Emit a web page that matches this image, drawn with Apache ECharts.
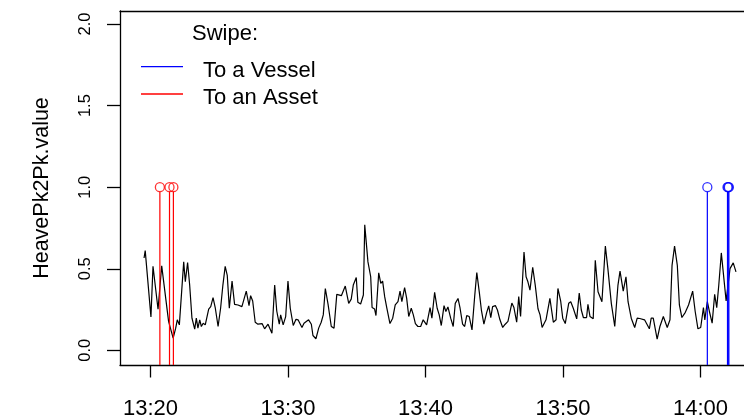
<!DOCTYPE html>
<html>
<head>
<meta charset="utf-8">
<script src="https://cdn.jsdelivr.net/npm/echarts@6/dist/echarts.min.js"></script>
<style>
  html, body { margin: 0; padding: 0; background: #fff; }
  #chart { width: 744px; height: 420px; }
</style>
</head>
<body>
<div id="chart"></div>
<script>
// Heave peak-to-peak samples (time of day, metres)
const times = [
  '13:19:32','13:19:37','13:20:02','13:20:11','13:20:33','13:20:49','13:21:19','13:21:39','13:21:50','13:21:57',
  '13:22:06','13:22:25','13:22:32','13:22:42','13:22:51','13:23:01','13:23:13','13:23:20','13:23:27','13:23:35',
  '13:23:42','13:23:50','13:23:59','13:24:14','13:24:23','13:24:33','13:24:43','13:24:55','13:25:06','13:25:16',
  '13:25:26','13:25:35','13:25:44','13:25:56','13:26:07','13:26:22','13:26:39','13:26:58','13:27:10','13:27:17',
  '13:27:26','13:27:37','13:27:49','13:28:07','13:28:18','13:28:33','13:28:50','13:29:02','13:29:11','13:29:22',
  '13:29:28','13:29:39','13:29:50','13:30:00','13:30:10','13:30:23','13:30:35','13:30:44','13:31:01','13:31:10',
  '13:31:30','13:31:42','13:31:49','13:32:02','13:32:14','13:32:25','13:32:34','13:32:43','13:32:55','13:33:09',
  '13:33:21','13:33:33','13:33:41','13:33:53','13:34:10','13:34:25','13:34:36','13:34:45','13:34:58','13:35:05',
  '13:35:17','13:35:29','13:35:35','13:35:49','13:36:01','13:36:07','13:36:18','13:36:24','13:36:36','13:36:45',
  '13:36:53','13:37:02','13:37:11','13:37:25','13:37:37','13:37:48','13:38:00','13:38:09','13:38:17','13:38:29',
  '13:38:38','13:38:47','13:38:58','13:39:07','13:39:16','13:39:27','13:39:39','13:39:50','13:40:05','13:40:20',
  '13:40:28','13:40:40','13:40:51','13:41:00','13:41:09','13:41:21','13:41:29','13:41:38','13:41:50','13:42:01',
  '13:42:10','13:42:22','13:42:31','13:42:42','13:42:51','13:43:00','13:43:11','13:43:23','13:43:35','13:43:44',
  '13:43:55','13:44:04','13:44:15','13:44:27','13:44:36','13:44:45','13:44:53','13:45:05','13:45:14','13:45:25',
  '13:45:37','13:45:48','13:46:00','13:46:17','13:46:26','13:46:38','13:46:47','13:46:55','13:47:10','13:47:19',
  '13:47:27','13:47:36','13:47:48','13:47:59','13:48:11','13:48:20','13:48:29','13:48:46','13:49:03','13:49:18',
  '13:49:30','13:49:38','13:49:50','13:49:59','13:50:10','13:50:25','13:50:34','13:50:45','13:51:00','13:51:11',
  '13:51:20','13:51:29','13:51:43','13:51:49','13:51:58','13:52:12','13:52:21','13:52:33','13:52:41','13:52:50',
  '13:53:05','13:53:16','13:53:31','13:53:46','13:54:00','13:54:09','13:54:23','13:54:35','13:54:44','13:54:58',
  '13:55:13','13:55:24','13:55:35','13:55:42','13:55:56','13:56:17','13:56:25','13:56:34','13:56:51','13:57:03',
  '13:57:18','13:57:35','13:57:47','13:57:56','13:58:07','13:58:19','13:58:28','13:58:39','13:58:54','13:59:08',
  '13:59:26','13:59:37','13:59:49','14:00:01','14:00:13','14:00:19','14:00:30','14:00:39','14:00:51','14:01:02',
  '14:01:11','14:01:20','14:01:31','14:01:52','14:02:09','14:02:23','14:02:35'
];
const heave = [
  0.566,0.611,0.205,0.515,0.252,0.518,0.177,0.075,0.136,0.187,
  0.156,0.542,0.420,0.538,0.400,0.197,0.130,0.197,0.136,0.187,
  0.146,0.166,0.156,0.253,0.268,0.323,0.258,0.146,0.258,0.400,
  0.515,0.460,0.258,0.424,0.282,0.278,0.268,0.363,0.274,0.335,
  0.302,0.172,0.160,0.164,0.132,0.160,0.105,0.400,0.241,0.160,
  0.217,0.156,0.207,0.424,0.258,0.152,0.190,0.187,0.140,0.166,
  0.187,0.160,0.091,0.071,0.136,0.172,0.217,0.379,0.282,0.146,
  0.136,0.343,0.349,0.335,0.394,0.288,0.314,0.400,0.446,0.294,
  0.284,0.339,0.769,0.542,0.451,0.262,0.253,0.213,0.475,0.410,
  0.424,0.329,0.262,0.164,0.197,0.278,0.298,0.363,0.298,0.385,
  0.318,0.207,0.258,0.217,0.164,0.146,0.146,0.187,0.156,0.262,
  0.197,0.355,0.258,0.217,0.152,0.274,0.238,0.266,0.197,0.146,
  0.288,0.318,0.258,0.160,0.146,0.213,0.207,0.125,0.335,0.477,
  0.355,0.247,0.160,0.231,0.272,0.201,0.268,0.274,0.247,0.187,
  0.140,0.160,0.177,0.290,0.262,0.172,0.329,0.207,0.603,0.451,
  0.420,0.369,0.509,0.400,0.255,0.217,0.140,0.187,0.318,0.172,
  0.187,0.379,0.302,0.197,0.164,0.288,0.298,0.258,0.193,0.351,
  0.247,0.201,0.201,0.282,0.207,0.193,0.552,0.359,0.355,0.298,
  0.639,0.501,0.288,0.146,0.400,0.485,0.363,0.451,0.298,0.197,
  0.140,0.197,0.195,0.203,0.187,0.132,0.197,0.197,0.069,0.146,
  0.207,0.140,0.187,0.521,0.639,0.521,0.278,0.201,0.233,0.278,
  0.363,0.238,0.132,0.140,0.262,0.187,0.298,0.238,0.166,0.343,
  0.262,0.400,0.597,0.302,0.501,0.536,0.481
];

// Swipe events, drawn as stems up to a fixed level
const vesselSwipes = ['14:00:30','14:01:58','14:02:01','14:02:04'];
const assetSwipes  = ['13:20:41','13:21:23','13:21:40'];
const swipeLevel = 1;

// Axis ticks
const timeTicks  = ['13:20','13:30','13:40','13:50','14:00'];
const valueTicks = [0, 0.5, 1, 1.5, 2];

const FONT = '"Liberation Sans", Arial, Helvetica, sans-serif';
const VESSEL_COLOR = '#0000ff';
const ASSET_COLOR = '#ff0000';
const FRAME = { color: '#000', width: 1.3 };

function toSec(s) {
  const p = s.split(':').map(Number);
  return p[0] * 3600 + p[1] * 60 + (p[2] || 0);
}
function hhmm(sec) {
  const h = Math.floor(sec / 3600);
  const m = Math.round((sec - h * 3600) / 60);
  return h + ':' + String(m).padStart(2, '0');
}

// Visible window: the time axis runs on past the right edge of the page
const Y_MIN = -0.09, Y_MAX = 2.08;
const X_MIN = toSec('13:20') - 133;
const X_MAX = toSec('14:00') + 190;

function swipeSeries(name, list, color) {
  const pts = list.map(t => [toSec(t), swipeLevel]);
  return [
    {
      name: name,
      type: 'custom',
      data: pts,
      z: 3,
      silent: true,
      renderItem(params, api) {
        const top = api.coord([api.value(0), api.value(1)]);
        const bot = api.coord([api.value(0), Y_MIN]);
        return {
          type: 'line',
          shape: { x1: top[0], y1: top[1] + 4.5, x2: bot[0], y2: bot[1] },
          style: { stroke: color, lineWidth: 1.2 }
        };
      }
    },
    {
      name: name,
      type: 'scatter',
      data: pts,
      z: 4,
      symbol: 'circle',
      symbolSize: 9,
      itemStyle: { color: 'rgba(0,0,0,0)', borderColor: color, borderWidth: 1.3 }
    }
  ];
}

const chart = echarts.init(document.getElementById('chart'), null, { renderer: 'canvas' });

chart.setOption({
  animation: false,
  backgroundColor: '#fff',
  grid: { left: 120, top: 11, right: 0, bottom: 53, show: false },
  xAxis: [
    {
      type: 'value',
      position: 'bottom',
      min: X_MIN, max: X_MAX,
      splitLine: { show: false },
      axisLine: { show: true, onZero: false, lineStyle: FRAME },
      axisTick: {
        show: true, inside: false, length: 12.5, customValues: timeTicks.map(toSec),
        lineStyle: FRAME
      },
      axisLabel: {
        customValues: timeTicks.map(toSec),
        formatter: v => hhmm(v),
        fontSize: 22, fontFamily: FONT, color: '#000', margin: 33
      }
    },
    {
      // top edge of the plot frame
      type: 'value',
      position: 'top',
      min: X_MIN, max: X_MAX,
      splitLine: { show: false },
      axisLine: { show: true, onZero: false, lineStyle: FRAME },
      axisTick: { show: false },
      axisLabel: { show: false }
    }
  ],
  yAxis: {
    type: 'value',
    min: Y_MIN, max: Y_MAX,
    name: 'HeavePk2Pk.value',
    nameLocation: 'middle',
    nameGap: 67,
    nameTextStyle: { fontSize: 21.5, fontFamily: FONT, color: '#000' },
    splitLine: { show: false },
    axisLine: { show: true, onZero: false, lineStyle: FRAME },
    axisTick: {
      show: true, inside: false, length: 13, customValues: valueTicks,
      lineStyle: FRAME
    },
    axisLabel: {
      customValues: valueTicks,
      rotate: 90,
      formatter: v => v.toFixed(1),
      fontSize: 16.5, fontFamily: FONT, color: '#000', margin: 26
    }
  },
  series: [
    {
      name: 'HeavePk2Pk',
      type: 'line',
      data: times.map((t, i) => [toSec(t), heave[i]]),
      showSymbol: false,
      symbol: 'none',
      lineStyle: { color: '#000', width: 1.2 },
      z: 2
    },
    ...swipeSeries('To a Vessel', vesselSwipes, VESSEL_COLOR),
    ...swipeSeries('To an Asset', assetSwipes, ASSET_COLOR)
  ],
  graphic: [
    { type: 'text', left: 192, top: 23,
      style: { text: 'Swipe:', fontSize: 22, fontFamily: FONT, fill: '#000' } },
    { type: 'line', shape: { x1: 141, y1: 66.7, x2: 183, y2: 66.7 },
      style: { stroke: VESSEL_COLOR, lineWidth: 1.3 } },
    { type: 'text', left: 203, top: 60,
      style: { text: 'To a Vessel', fontSize: 22, fontFamily: FONT, fill: '#000' } },
    { type: 'line', shape: { x1: 141, y1: 94, x2: 183, y2: 94 },
      style: { stroke: ASSET_COLOR, lineWidth: 1.3 } },
    { type: 'text', left: 203, top: 87,
      style: { text: 'To an Asset', fontSize: 22, fontFamily: FONT, fill: '#000' } }
  ]
});
</script>
</body>
</html>
